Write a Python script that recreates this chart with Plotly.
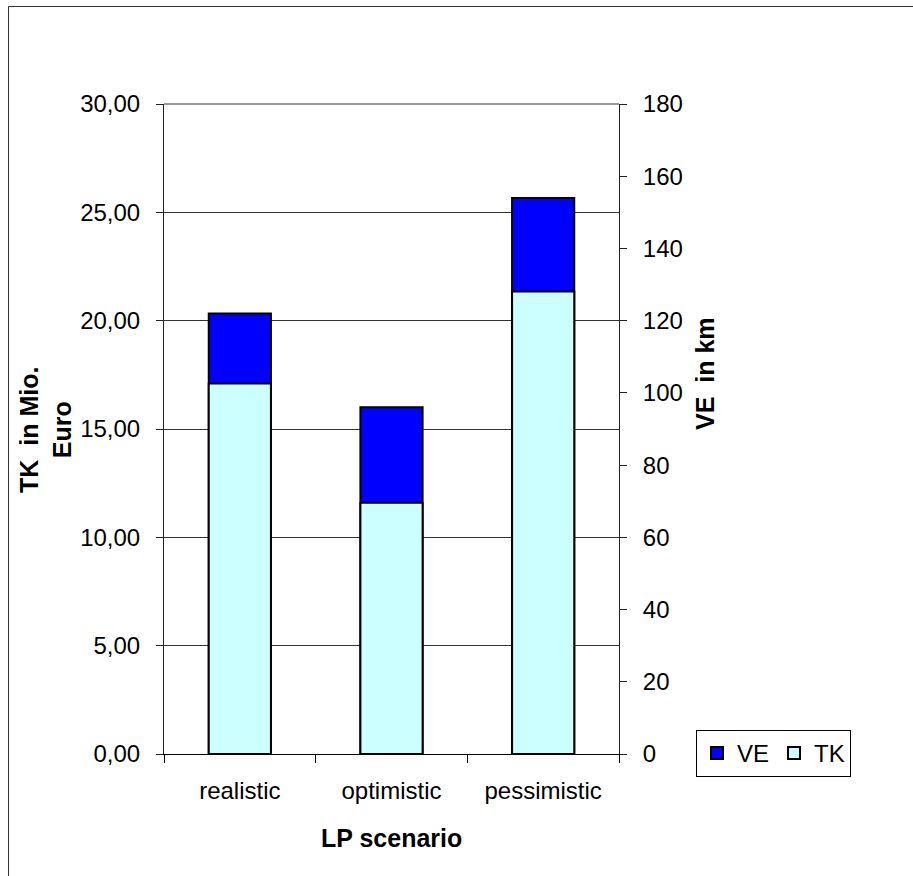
import plotly.graph_objects as go

# LP scenario results
scenarios = ["realistic", "optimistic", "pessimistic"]
tk_mio_euro = [17.1, 11.6, 21.35]   # TK in Mio. Euro (left axis)
ve_km = [122, 96, 154]              # VE in km (right axis)

left_ticks = [0, 5, 10, 15, 20, 25, 30]
right_ticks = [0, 20, 40, 60, 80, 100, 120, 140, 160, 180]

FONT = "Liberation Sans, Arial, sans-serif"
W, H = 913, 876
L, R, T, B = 164, 294, 104, 122
pw, ph = W - L - R, H - T - B

fig = go.Figure()

# VE on the right-hand axis, drawn behind
fig.add_trace(go.Bar(
    x=scenarios, y=ve_km, name="VE", yaxis="y", width=0.41,
    marker=dict(color="#0000FF", line=dict(color="black", width=2)),
))
# TK on the left-hand axis, overlaid in front
fig.add_trace(go.Bar(
    x=scenarios, y=tk_mio_euro, name="TK", yaxis="y2", width=0.41,
    marker=dict(color="#CCFFFF", line=dict(color="black", width=2)),
))

axis_font = dict(family=FONT, size=24, color="black")
title_font = dict(family=FONT, size=25, color="black")

fig.update_layout(
    width=W, height=H,
    margin=dict(l=L, r=R, t=T, b=B),
    paper_bgcolor="white", plot_bgcolor="white",
    separators=",.",
    barmode="overlay",
    font=dict(family=FONT, size=24, color="black"),
    showlegend=True,
    legend=dict(
        orientation="h", x=(696 - L) / pw, y=(754 - 730) / ph,
        xanchor="left", yanchor="top",
        bordercolor="black", borderwidth=1, bgcolor="white",
        font=dict(family=FONT, size=24), itemclick=False,
        itemwidth=30, tracegroupgap=0,
    ),
    xaxis=dict(
        type="category", categoryarray=scenarios,
        showline=True, linecolor="black", linewidth=1,
        ticks="outside", tickson="boundaries", ticklen=8, tickcolor="black",
        tickfont=axis_font, showgrid=False, ticklabelstandoff=15,
    ),
    yaxis=dict(
        side="right", range=[0, 180], tickvals=right_ticks,
        showline=True, linecolor="#222", linewidth=1,
        ticks="outside", ticklen=7, tickcolor="#222",
        tickfont=axis_font, showgrid=False, zeroline=False,
        ticklabelstandoff=11,
    ),
    yaxis2=dict(
        side="left", overlaying="y", range=[0, 30], tickvals=left_ticks,
        tickformat=".2f",
        showline=True, linecolor="#222", linewidth=1,
        ticks="outside", ticklen=7, tickcolor="#222",
        tickfont=axis_font, showgrid=True, gridcolor="#333333", gridwidth=1,
        zeroline=False, ticklabelstandoff=11,
    ),
)

# axis titles
fig.add_annotation(
    text="<b>TK  in Mio.<br>Euro</b>", xref="paper", yref="paper",
    x=(46 - L) / pw, y=(754 - 430) / ph, xanchor="center", yanchor="middle",
    textangle=-90, showarrow=False, font=title_font, align="center",
)
fig.add_annotation(
    text="<b>VE  in km</b>", xref="paper", yref="paper",
    x=(705 - L) / pw, y=(754 - 374) / ph, xanchor="center", yanchor="middle",
    textangle=-90, showarrow=False, font=title_font,
)
fig.add_annotation(
    text="<b>LP scenario</b>", xref="paper", yref="paper",
    x=0.5, y=(754 - 838) / ph, xanchor="center", yanchor="middle",
    showarrow=False, font=title_font,
)

# top edge of plot area and outer chart frame
fig.add_shape(type="line", xref="paper", yref="paper", x0=0, x1=1, y0=1, y1=1,
              line=dict(color="#999999", width=2))
fig.add_shape(type="rect", xref="paper", yref="paper",
              x0=(8.5 - L) / pw, x1=(930 - L) / pw,
              y0=(754 - 6.5) / ph, y1=(754 - 900) / ph,
              line=dict(color="#333333", width=1), fillcolor="rgba(0,0,0,0)",
              layer="below")

fig.write_html("out.html")
